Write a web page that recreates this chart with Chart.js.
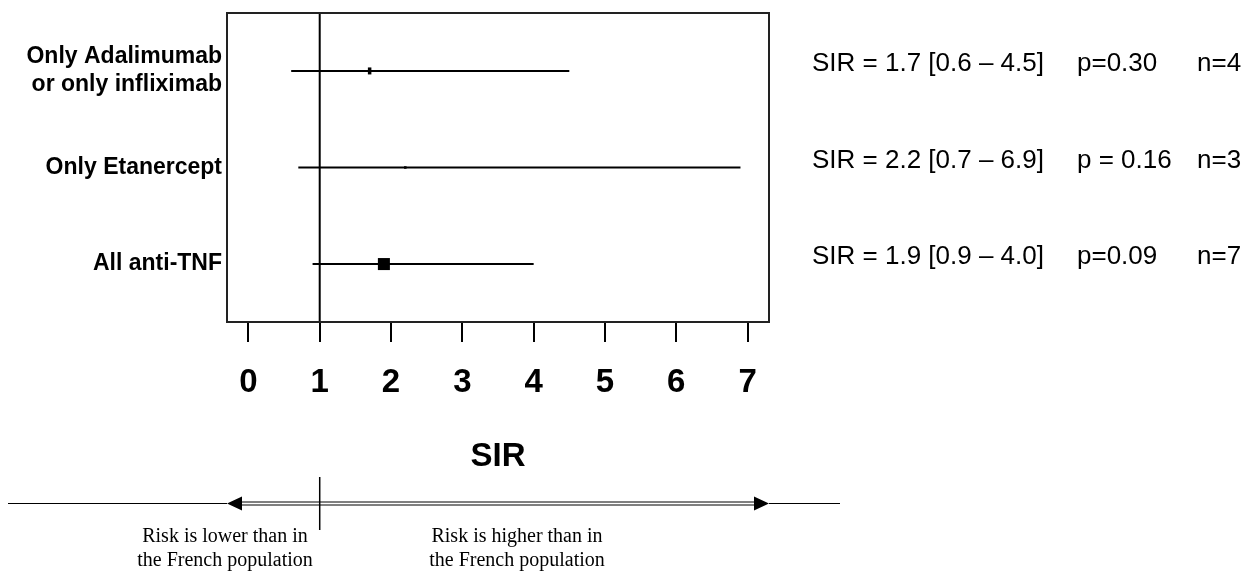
<!DOCTYPE html>
<html>
<head>
<meta charset="utf-8">
<script src="https://cdn.jsdelivr.net/npm/chart.js@4.4.1/dist/chart.umd.min.js"></script>
<style>
  html, body { margin: 0; padding: 0; background: #fff; }
  canvas { display: block; }
</style>
</head>
<body>
<canvas id="forest" width="1254" height="572"></canvas>
<script>
// Standardised incidence ratios by treatment group
const categories = [['Only Adalimumab', 'or only infliximab'], 'Only Etanercept', 'All anti-TNF'];
const sir = [1.7, 2.2, 1.9];
const ciLow = [0.6, 0.7, 0.9];
const ciHigh = [4.5, 6.9, 4.0];
const pValues = ['p=0.30', 'p = 0.16', 'p=0.09'];
const nCases = [4, 3, 7];
const xTicks = [0, 1, 2, 3, 4, 5, 6, 7];
const refSIR = 1;
const xTitle = 'SIR';
const lowerNote = ['Risk is lower than in', 'the French population'];
const higherNote = ['Risk is higher than in', 'the French population'];

// Marker look for each row (drawing style)
const markerStyle = ['line', 'rect', 'rect'];
const markerRadius = [3.5, 1.8, 8.5];
const markerRotation = [90, 0, 0];
const markerBorder = [3.5, 0, 0];

const SANS = '"Liberation Sans", Arial, Helvetica, sans-serif';
const SERIF = '"Liberation Serif", "Times New Roman", serif';

const ciDatasets = categories.map((c, i) => ({
  type: 'scatter',
  data: [{ x: ciLow[i], y: i }, { x: ciHigh[i], y: i }],
  showLine: true,
  borderColor: '#000',
  borderWidth: 2,
  pointRadius: 0
}));

const refDataset = {
  type: 'scatter',
  data: [{ x: refSIR, y: -0.6 }, { x: refSIR, y: 2.6 }],
  showLine: true,
  borderColor: '#000',
  borderWidth: 2,
  pointRadius: 0
};

const pointDataset = {
  type: 'scatter',
  data: sir.map((v, i) => ({ x: v, y: i })),
  pointStyle: markerStyle,
  pointRadius: markerRadius,
  pointRotation: markerRotation,
  borderWidth: markerBorder,
  backgroundColor: '#000',
  borderColor: '#000'
};

// Frame, statistics column and the risk-direction legend underneath
const annotations = {
  id: 'annotations',
  afterDraw(chart) {
    const { ctx, chartArea: a, scales: { x, y } } = chart;
    ctx.save();

    ctx.strokeStyle = '#222';
    ctx.lineWidth = 2;
    ctx.strokeRect(a.left, a.top, a.right - a.left, a.bottom - a.top);

    ctx.fillStyle = '#000';
    ctx.font = '26px ' + SANS;
    ctx.textBaseline = 'middle';
    ctx.textAlign = 'left';
    sir.forEach((v, i) => {
      const py = y.getPixelForValue(i) - 7;
      ctx.fillText('SIR = ' + v.toFixed(1) + ' [' + ciLow[i].toFixed(1) + ' \u2013 ' + ciHigh[i].toFixed(1) + ']', 812, py);
      ctx.fillText(pValues[i], 1077, py);
      ctx.fillText('n=' + nCases[i], 1197, py);
    });

    // direction arrows
    const ay = 503;
    const xl = a.left, xr = a.right;
    const head = 15, half = 7;
    ctx.strokeStyle = '#000';
    ctx.lineWidth = 1;
    ctx.beginPath();
    ctx.moveTo(8, ay + 0.5); ctx.lineTo(xl, ay + 0.5);
    ctx.moveTo(xr, ay + 0.5); ctx.lineTo(840, ay + 0.5);
    ctx.moveTo(xl + head - 1, ay - 1); ctx.lineTo(xr - head + 1, ay - 1);
    ctx.moveTo(xl + head - 1, ay + 2); ctx.lineTo(xr - head + 1, ay + 2);
    ctx.stroke();

    ctx.beginPath();
    ctx.moveTo(xl, ay + 0.5);
    ctx.lineTo(xl + head, ay + 0.5 - half);
    ctx.lineTo(xl + head, ay + 0.5 + half);
    ctx.closePath();
    ctx.moveTo(xr, ay + 0.5);
    ctx.lineTo(xr - head, ay + 0.5 - half);
    ctx.lineTo(xr - head, ay + 0.5 + half);
    ctx.closePath();
    ctx.fill();

    const xRef = x.getPixelForValue(refSIR);
    ctx.lineWidth = 1.5;
    ctx.beginPath();
    ctx.moveTo(xRef, 477); ctx.lineTo(xRef, 530);
    ctx.stroke();

    ctx.font = '20px ' + SERIF;
    ctx.textAlign = 'center';
    lowerNote.forEach((t, i) => ctx.fillText(t, 225, 537 + i * 24));
    higherNote.forEach((t, i) => ctx.fillText(t, 517, 537 + i * 24));

    ctx.restore();
  }
};

new Chart(document.getElementById('forest'), {
  type: 'scatter',
  data: { datasets: [...ciDatasets, refDataset, pointDataset] },
  options: {
    responsive: false,
    animation: false,
    layout: { padding: { top: 13, right: 485, bottom: 95, left: 0 } },
    plugins: { legend: { display: false }, tooltip: { enabled: false } },
    scales: {
      x: {
        type: 'linear',
        position: 'bottom',
        min: -0.3,
        max: 7.3,
        afterBuildTicks: (s) => { s.ticks = xTicks.map(v => ({ value: v })); },
        afterFit: (s) => { s.height = 155; s.paddingLeft = 0; s.paddingRight = 0; },
        border: { display: false },
        grid: { drawOnChartArea: false, drawTicks: true, tickLength: 20, color: '#000', lineWidth: 2 },
        ticks: {
          autoSkip: false, maxRotation: 0, padding: 21,
          color: '#000',
          font: { family: SANS, size: 33, weight: 'bold' }
        },
        title: {
          display: true, text: xTitle, color: '#000',
          padding: { top: 0, bottom: 0 },
          font: { family: SANS, size: 33, weight: 'bold' }
        }
      },
      y: {
        type: 'linear',
        reverse: true,
        min: -0.6,
        max: 2.6,
        afterBuildTicks: (s) => { s.ticks = categories.map((c, i) => ({ value: i })); },
        afterFit: (s) => { s.width = 227; s.paddingTop = 0; s.paddingBottom = 0; },
        border: { display: false },
        grid: { display: false, drawTicks: false },
        ticks: {
          padding: 5,
          color: '#000',
          font: { family: SANS, size: 23, weight: 'bold', lineHeight: 1.2 },
          callback: (v) => categories[v]
        }
      }
    }
  },
  plugins: [annotations]
});
</script>
</body>
</html>
